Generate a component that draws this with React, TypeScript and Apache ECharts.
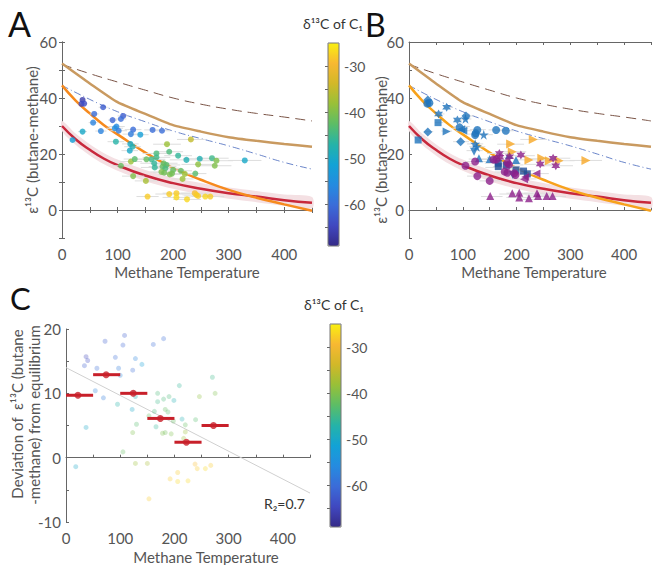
import React, { useEffect, useRef } from 'react';
import * as echarts from 'echarts';

// ---------- data ----------
const curveT = [0, 50, 100, 150, 200, 250, 300, 350, 400, 450];
const dashedBrown = [52, 48.7, 45.7, 42.8, 40.0, 37.8, 36.0, 34.5, 33.2, 31.8];
const tanLine = [52.3, 45.2, 38.5, 34.3, 30.3, 28.0, 26.0, 24.7, 23.6, 22.6];
const blueDashDot = [44.5, 39.5, 35.1, 31.5, 28.2, 25.5, 22.9, 20.0, 17.0, 14.6];
const fineT = [0, 25, 50, 75, 100, 150, 200, 250, 300, 350, 400, 450];
const orangeLine = [44.5, 39, 34.5, 30.4, 27, 20.5, 15, 10.8, 7.2, 4.4, 2, -0.3];
const redLine = [30, 25.2, 21.5, 18.4, 16, 12.3, 9.6, 7.6, 6, 4.8, 3.5, 2.6];
const redBandHi = [31.8, 27.2, 23.5, 20.4, 18, 14.3, 11.6, 9.6, 8, 6.8, 5.5, 4.6];
const redBandLo = [28.2, 23.2, 19.5, 16.4, 14, 10.3, 7.6, 5.6, 4, 2.8, 1.5, 0.6];

// Panel A samples: [temperature, epsilon, d13C of C1, temperature error]
const samplesA = [
  [37, 39.3, -66, 5], [35, 37.9, -65, 5], [40, 38, -64, 5], [74, 36.7, -62, 8],
  [58, 34.3, -60, 8], [110, 33.6, -62, 10], [91, 32.1, -61, 8], [106, 32.5, -60, 10],
  [56, 31.2, -57, 8], [98, 29.8, -56, 15], [95, 29.2, -55, 15], [102, 28.3, -58, 15],
  [128, 28.7, -60, 15], [124, 27.1, -58, 15], [70, 28.2, -57, 10], [37, 28, -50, 8],
  [141, 26.9, -52, 15], [163, 28.6, -60, 15], [180, 28.3, -60, 15], [19, 25, -52, 5],
  [97, 24.4, -47, 15], [123, 23.6, -50, 15], [127, 22.6, -48, 15], [122, 21.2, -50, 15],
  [232, 25.2, -35, 25], [189, 23.5, -38, 25], [106, 15.8, -42, 15], [128, 12.1, -40, 20],
  [151, 10.4, -37, 20], [124, 17.3, -38, 20], [131, 18.2, -43, 20], [152, 18.1, -42, 25],
  [170, 20.2, -44, 25], [161, 18.1, -45, 25], [170, 18.8, -45, 25], [166, 16.7, -46, 25],
  [167, 15.2, -46, 25], [193, 20.8, -44, 25], [209, 19.4, -46, 25], [183, 16.7, -42, 25],
  [188, 16.1, -43, 25], [181, 15.5, -42, 25], [186, 14.9, -44, 25], [224, 17.9, -48, 30],
  [248, 18.3, -48, 30], [270, 18.5, -45, 30], [278, 17.6, -40, 30], [245, 16.3, -39, 30],
  [275, 15.8, -40, 30], [329, 17.7, -50, 30], [179, 13.6, -40, 20], [184, 13.3, -41, 20],
  [200, 14.3, -42, 20], [214, 14, -42, 20], [194, 12.7, -40, 20], [198, 13, -41, 20],
  [221, 12.9, -38, 20], [217, 11.1, -38, 20], [240, 13, -43, 20], [154, 4.8, -28, 20],
  [193, 5.7, -28, 25], [206, 6, -28, 25], [206, 4.5, -27, 25], [225, 3.8, -27, 25],
  [239, 6, -29, 25], [242, 5.4, -28, 25], [245, 5, -28, 25], [258, 4.8, -27, 25],
  [267, 4.8, -28, 25],
];

// Panel B groups
const bBlueCircle = [[34, 38], [38, 38.2], [94, 29.5], [127, 28.6], [124, 27.4], [123, 26.8], [162, 28.6], [180, 28.3]];
const bBlueDiamond = [[35, 39.3], [106, 33.6], [35, 27.9], [96, 24.4]];
const bBlueSquare = [[54, 31.2], [17, 25]];
const bBlueHexagram = [[70, 36.7], [55, 34.3], [90, 32.1]];
const bBlueStar = [[105, 32.6], [139, 26.9], [123, 23.6], [126, 22.6]];
const bBlueTriLeft = [[97, 28.8], [101, 28.3]];
const bBlueTriRight = [[70, 28]];
const bBlueTriDown = [[121, 20.8], [193, 12.5]];
const bBlueTriUp = [[130, 18.5], [150, 18.2], [199, 17.9], [186, 19.6]];
const bNavySquare = [[166, 16.7], [166, 15.5], [181, 16], [199, 14.3], [213, 13.9], [220, 12.9]];
const bOrangeTriRight = [[231, 25.2], [189, 23.6], [192, 20.8], [223, 17.9], [247, 18.5], [261, 17.6], [279, 17.6], [329, 17.7]];
const bPurpleHexagram = [[168, 20.2], [169, 18.8], [208, 19.6], [244, 16.4], [268, 18.5], [273, 15.8], [187, 19]];
const bPurpleCircle = [[162, 18], [157, 18], [183, 16.9], [186, 16.2], [178, 13.7], [183, 13.3], [196, 13.1], [198, 12.5], [123, 17.3], [105, 15.8], [127, 12.1], [150, 10.4]];
const bPurpleTriLeft = [[237, 13], [214, 11], [216, 11.8]];
const bPurpleTriUp = [[151, 5], [192, 6], [205, 6.2], [205, 4.5], [223, 4.2], [238, 6], [240, 5], [256, 5], [267, 5]];

// Panel C: [temperature, deviation, d13C]
const samplesC = [
  [18, -1.4, -50], [37, 15.7, -65], [40, 15.1, -64], [34, 14.3, -62], [57, 13.9, -60],
  [72, 18.1, -62], [91, 15.6, -60], [108, 19, -62], [105, 17.5, -61], [128, 15.4, -57],
  [97, 13.9, -58], [123, 13.6, -60], [140, 14.5, -52], [161, 17.6, -60], [180, 18.5, -60],
  [54, 10.4, -57], [69, 9.3, -58], [100, 12.8, -56], [125, 10.1, -50], [37, 4.7, -50],
  [95, 8.3, -47], [122, 7.5, -50], [128, 9.5, -48], [130, 5.2, -43], [123, 3.9, -40],
  [105, 0.9, -42], [128, -0.9, -38], [150, -0.9, -37], [153, 6.5, -42], [163, 7.2, -44],
  [166, 4.8, -46], [169, 10, -44], [169, 8.7, -45], [183, 7.5, -42], [188, 7.1, -43],
  [190, 9.5, -44], [199, 8.9, -48], [209, 11.2, -46], [178, 3.8, -40], [183, 3.9, -41],
  [198, 5.7, -42], [194, 3.7, -40], [214, 6, -48], [220, 5.1, -42], [217, 3, -38],
  [239, 5.9, -43], [246, 9.5, -39], [270, 12.5, -45], [275, 10, -40], [153, -6.4, -28],
  [192, -3.3, -28], [206, -2.3, -28], [206, -3.7, -27], [225, -3.6, -27], [238, -1, -29],
  [242, -1.7, -28], [257, -1.7, -27], [267, -1.2, -28], [220, 4, -38], [180, 9.1, -44],
];
const binLo = [0, 50, 100, 150, 200, 250];
const binHi = [50, 100, 150, 200, 250, 300];
const binCenter = [22, 74, 124, 174, 222, 272];
const binMean = [9.7, 12.9, 10, 6.1, 2.4, 5];
const regression = [[0, 14], [450, -5.5]];

const cbarMin = -69;
const cbarMax = -25;
const cbarLabels = [-30, -40, -50, -60];
const cbarTicks = [-30, -35, -40, -45, -50, -55, -60, -65];

const parula = ['#352A87', '#4048C0', '#3B6CD8', '#258BE0', '#12A2D6', '#25B3A8', '#5CBD66', '#98C038', '#D2B828', '#F8B832', '#F9F010'];

const FONT = 'Lato, "DejaVu Sans", sans-serif';
const AX = '#666';
const TXT = '#555';

const STAR5 = 'path://M50,0 L61,35 L98,35 L68,57 L79,91 L50,70 L21,91 L32,57 L2,35 L39,35 Z';
const HEXAGRAM = 'path://M50,0 L62,25 L93,25 L75,50 L93,75 L62,75 L50,100 L38,75 L7,75 L25,50 L7,25 L38,25 Z';

export default function App() {
  const ref = useRef<HTMLDivElement>(null);
  useEffect(() => {
    if (!ref.current) return;
    const chart = echarts.init(ref.current, undefined, { renderer: 'svg' });

    const grids = [
      { left: 62, top: 42, width: 250, height: 196 },      // A
      { left: 328, top: 43, width: 11, height: 203 },      // A colorbar
      { left: 409, top: 42, width: 250, height: 196 },     // B
      { left: 66, top: 329, width: 244, height: 193 },     // C
      { left: 330, top: 324, width: 11, height: 203 },     // C colorbar
    ];

    const axisLine = { show: true, lineStyle: { color: AX, width: 1 } };
    const lbl = { color: TXT, fontSize: 15, fontFamily: FONT };

    const xMain = (gridIndex: number, position = 'bottom', labels = true) => ({
      type: 'value', gridIndex, position, min: 0, max: 450, interval: 50,
      axisLine, splitLine: { show: false },
      axisTick: { show: true, inside: true, length: 3, lineStyle: { color: AX } },
      axisLabel: labels
        ? { ...lbl, margin: 8, formatter: (v: number) => (v % 100 === 0 && v <= 400 ? String(v) : '') }
        : { show: false },
    });
    const yAB = (gridIndex: number, position = 'left', labels = true) => ({
      type: 'value', gridIndex, position, min: -10, max: 60, interval: 10,
      axisLine, splitLine: { show: false },
      axisTick: { show: true, inside: true, length: 3, lineStyle: { color: AX } },
      axisLabel: labels
        ? { ...lbl, margin: 5, formatter: (v: number) => (v % 20 === 0 ? String(v) : '') }
        : { show: false },
    });
    const cbarX = (gridIndex: number) => ({ type: 'value', gridIndex, show: false, min: 0, max: 1 });
    const cbarY = (gridIndex: number) => ({
      type: 'value', gridIndex, position: 'right', min: cbarMin, max: cbarMax,
      axisLine: { show: false }, splitLine: { show: false },
      axisTick: { show: true, inside: true, length: 3, customValues: cbarTicks, lineStyle: { color: AX } },
      axisLabel: { ...lbl, fontSize: 14, margin: 5, customValues: cbarLabels },
    });

    const xAxis = [
      xMain(0), xMain(0, 'top', false), xMain(2), xMain(2, 'top', false),
      { ...xMain(3) }, cbarX(1), cbarX(4),
    ];
    const yAxis = [
      yAB(0), yAB(0, 'right', false), yAB(2),
      {
        type: 'value', gridIndex: 3, min: -10, max: 20, interval: 5,
        axisLine, splitLine: { show: false },
        axisTick: { show: true, inside: true, length: 3, lineStyle: { color: AX } },
        axisLabel: { ...lbl, margin: 5, formatter: (v: number) => (v % 10 === 0 ? String(v) : '') },
      },
      cbarY(1), cbarY(4),
    ];

    const series: any[] = [];

    const addCurves = (xi: number, yi: number, orange: string) => {
      series.push({
        type: 'custom', xAxisIndex: xi, yAxisIndex: yi, data: [[0, 0]], silent: true, z: 1,
        renderItem: (_p: any, api: any) => {
          const pts: number[][] = [];
          fineT.forEach((t, i) => pts.push(api.coord([t, redBandHi[i]])));
          for (let i = fineT.length - 1; i >= 0; i--) pts.push(api.coord([fineT[i], redBandLo[i]]));
          return { type: 'polygon', shape: { points: pts, smooth: 0.3 }, style: { fill: '#F4E0E3', stroke: 'none' } };
        },
      });
      series.push({
        type: 'line', xAxisIndex: xi, yAxisIndex: yi, showSymbol: false, smooth: true, z: 2,
        data: curveT.map((t, i) => [t, dashedBrown[i]]),
        lineStyle: { color: '#7A5446', width: 1, type: [10, 6] },
      });
      series.push({
        type: 'line', xAxisIndex: xi, yAxisIndex: yi, showSymbol: false, smooth: 0.2, z: 2,
        data: curveT.map((t, i) => [t, tanLine[i]]),
        lineStyle: { color: '#C99A60', width: 2.5 },
      });
      series.push({
        type: 'line', xAxisIndex: xi, yAxisIndex: yi, showSymbol: false, smooth: true, z: 2,
        data: curveT.map((t, i) => [t, blueDashDot[i]]),
        lineStyle: { color: '#4466BB', width: 0.8, type: [7, 3, 1, 3] },
      });
      series.push({
        type: 'line', xAxisIndex: xi, yAxisIndex: yi, showSymbol: false, smooth: true, z: 2,
        data: fineT.map((t, i) => [t, redLine[i]]),
        lineStyle: { color: '#C8283C', width: 2.5 },
      });
      series.push({
        type: 'line', xAxisIndex: xi, yAxisIndex: yi, showSymbol: false, smooth: true, z: 3,
        data: fineT.map((t, i) => [t, orangeLine[i]]),
        lineStyle: { color: orange, width: 2.5 },
      });
      series.push({
        type: 'custom', xAxisIndex: xi, yAxisIndex: yi, data: samplesA, silent: true, z: 4,
        renderItem: (_p: any, api: any) => {
          const x = api.value(0), y = api.value(1), e = api.value(3);
          const a = api.coord([x - e, y]), b = api.coord([x + e, y]);
          return { type: 'line', shape: { x1: a[0], y1: a[1], x2: b[0], y2: b[1] }, style: { stroke: '#DDDDDD', lineWidth: 1 } };
        },
      });
    };

    addCurves(0, 0, '#F68A1E');
    const idxA = series.length;
    series.push({
      type: 'scatter', xAxisIndex: 0, yAxisIndex: 0, data: samplesA, symbolSize: 6, z: 5,
      encode: { x: 0, y: 1 },
    });

    addCurves(2, 2, '#F7A21C');
    const blue = '#1F74BD', navy = '#224F98', purple = '#8C1F8A', orng = '#F8A826';
    const bGroups: [number[][], string, string, number, number][] = [
      [bBlueCircle, 'circle', blue, 8, 0],
      [bBlueDiamond, 'diamond', blue, 9, 0],
      [bBlueSquare, 'rect', blue, 7, 0],
      [bBlueHexagram, HEXAGRAM, blue, 9, 0],
      [bBlueStar, STAR5, blue, 10, 0],
      [bBlueTriLeft, 'triangle', blue, 8, 90],
      [bBlueTriRight, 'triangle', blue, 8, -90],
      [bBlueTriDown, 'triangle', blue, 8, 180],
      [bBlueTriUp, 'triangle', blue, 8, 0],
      [bNavySquare, 'rect', navy, 7, 0],
      [bOrangeTriRight, 'triangle', orng, 9, -90],
      [bPurpleHexagram, HEXAGRAM, purple, 9, 0],
      [bPurpleCircle, 'circle', purple, 8, 0],
      [bPurpleTriLeft, 'triangle', purple, 8, 90],
      [bPurpleTriUp, 'triangle', purple, 8, 0],
    ];
    bGroups.forEach(([d, sym, col, size, rot]) => {
      series.push({
        type: 'scatter', xAxisIndex: 2, yAxisIndex: 2, data: d, symbol: sym, symbolSize: size,
        symbolRotate: rot, itemStyle: { color: col }, z: 5,
      });
    });

    // Panel C
    series.push({
      type: 'line', xAxisIndex: 4, yAxisIndex: 3, data: regression, showSymbol: false, z: 1,
      lineStyle: { color: '#D0D0D0', width: 1 },
    });
    const idxC = series.length;
    series.push({
      type: 'scatter', xAxisIndex: 4, yAxisIndex: 3, data: samplesC, symbolSize: 5, z: 2,
      encode: { x: 0, y: 1 }, itemStyle: { opacity: 0.3 },
    });
    series.push({
      type: 'custom', xAxisIndex: 4, yAxisIndex: 3, z: 3,
      data: binMean.map((m, i) => [binCenter[i], m, binLo[i], binHi[i]]),
      renderItem: (_p: any, api: any) => {
        const y = api.value(1);
        const a = api.coord([api.value(2), y]), b = api.coord([api.value(3), y]);
        return { type: 'line', shape: { x1: a[0], y1: a[1], x2: b[0], y2: b[1] }, style: { stroke: '#C8202A', lineWidth: 3 } };
      },
    });
    series.push({
      type: 'scatter', xAxisIndex: 4, yAxisIndex: 3, z: 4, symbolSize: 7,
      data: binMean.map((m, i) => [binCenter[i], m]), itemStyle: { color: '#C8202A' },
    });

    const vm = (left: number, top: number, sIdx: number) => ({
      type: 'continuous', min: cbarMin, max: cbarMax, dimension: 2, seriesIndex: sIdx,
      inRange: { color: parula }, left, top, itemWidth: 11, itemHeight: 203,
      calculable: false, padding: 0, orient: 'vertical', show: true, text: ['', ''],
      textStyle: { fontSize: 1, color: 'rgba(0,0,0,0)' },
    });

    const txt = (text: string, x: number, y: number, size: number, extra: any = {}) => ({
      type: 'text', x, y, z: 100, ...extra,
      style: { text, font: `${size}px ${FONT}`, fill: extra.fill || TXT, align: extra.align || 'center', verticalAlign: 'middle' },
    });

    const graphic = [
      txt('A', 8, 23, 34, { align: 'left', fill: '#111' }),
      txt('B', 365, 24, 32, { align: 'left', fill: '#111' }),
      txt('C', 10, 298, 31, { align: 'left', fill: '#111' }),
      txt('δ¹³C of C₁', 333, 23, 14, { fill: '#333' }),
      txt('δ¹³C of C₁', 334, 304, 14, { fill: '#333' }),
      txt('Methane Temperature', 187, 272, 15),
      txt('Methane Temperature', 534, 272, 15),
      txt('Methane Temperature', 206, 557, 15),
      txt('ε¹³C (butane-methane)', 32, 140, 15, { rotation: Math.PI / 2 }),
      txt('ε¹³C (butane-methane)', 381, 150, 15, { rotation: Math.PI / 2 }),
      txt('Deviation of  ε¹³C (butane', 17, 414, 15, { rotation: Math.PI / 2 }),
      txt('-methane) from equilibrium', 34, 415, 15, { rotation: Math.PI / 2 }),
      txt('R₂=0.7', 305, 503, 14, { align: 'right', fill: '#333' }),
      { type: 'rect', z: 100, shape: { x: 328, y: 43, width: 11, height: 203 }, style: { fill: 'none', stroke: '#777', lineWidth: 1 } },
      { type: 'rect', z: 100, shape: { x: 330, y: 324, width: 11, height: 203 }, style: { fill: 'none', stroke: '#777', lineWidth: 1 } },
    ];

    chart.setOption({
      animation: false,
      backgroundColor: '#ffffff',
      grid: grids,
      xAxis,
      yAxis,
      visualMap: [vm(328, 43, idxA), vm(330, 324, idxC)],
      series,
      graphic,
    });
    return () => chart.dispose();
  }, []);
  return <div ref={ref} style={{ position: 'absolute', left: 0, top: 0, width: 654, height: 565 }} />;
}
